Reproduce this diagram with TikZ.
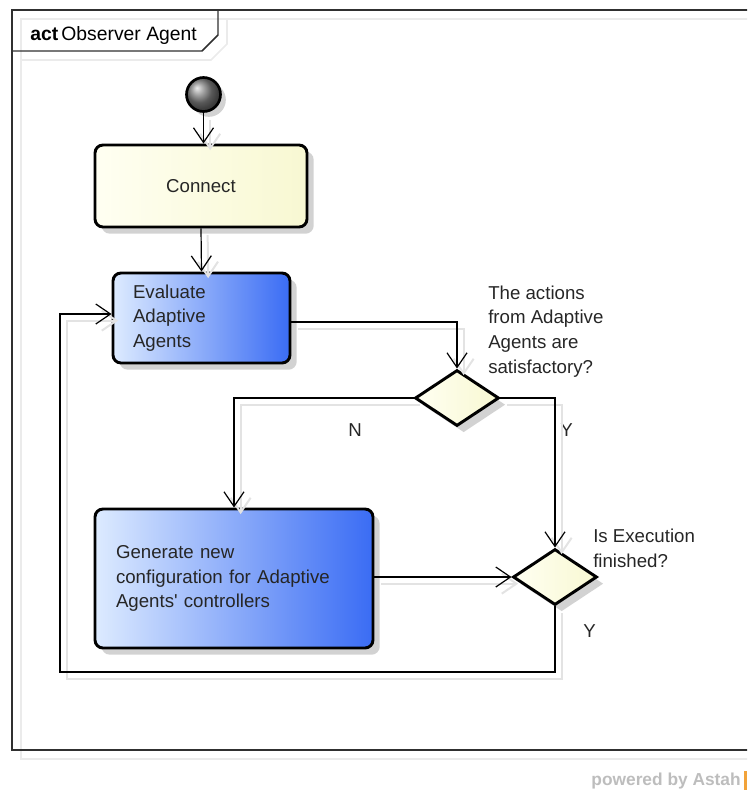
\documentclass[tikz,border=0pt]{standalone}
\usepackage{fontspec}
\setmainfont{Liberation Sans}
\usetikzlibrary{arrows.meta,shapes.geometric,shadows}

\definecolor{bluelight}{HTML}{DDEBFF}
\definecolor{bluedark}{HTML}{3A6CF4}
\definecolor{yellowlight}{HTML}{FFFFF2}
\definecolor{yellowdark}{HTML}{F8F8D2}
\definecolor{boxshade}{HTML}{D2D2D2}
\definecolor{lineshade}{HTML}{E3E3E3}
\definecolor{frameshade}{HTML}{EBEBEB}
\definecolor{frameline}{HTML}{303030}
\definecolor{brandgray}{HTML}{BDBDBD}
\definecolor{brandorange}{HTML}{F2A33A}

\tikzset{
  txt/.style={font=\fontsize{14}{18.4}\selectfont, text=black!85},
  action/.style={draw=black, line width=2.2pt, rounded corners=6pt, inner sep=0pt,
    txt, drop shadow={shadow xshift=5pt, shadow yshift=-5pt, fill=boxshade, opacity=1}},
  yfill/.style={left color=yellowlight, right color=yellowdark},
  bfill/.style={left color=bluelight, right color=bluedark},
  decision/.style={diamond, draw=black, line width=2.2pt, inner sep=0pt,
    minimum width=63pt, minimum height=42pt, yfill,
    drop shadow={shadow xshift=5pt, shadow yshift=-5pt, fill=boxshade, opacity=1}},
  startnode/.style={circle, draw=black, line width=2pt, inner sep=0pt,
    minimum size=25.5pt, ball color=black!50,
    drop shadow={shadow xshift=4pt, shadow yshift=-4pt, fill=boxshade, opacity=1}},
  conn/.style={draw=black, line width=0.9pt,
    -{Straight Barb[length=11pt,width=15pt]},
    preaction={draw=lineshade, line width=1.5pt,
      transform canvas={shift={(5pt,-5pt)}}}},
  lbl/.style={txt, inner sep=0pt, align=left, anchor=base west},
  frame/.style={draw=frameline, line width=1.1pt},
  frameshadow/.style={draw=frameshade, line width=1.2pt}
}

\begin{document}
\begin{tikzpicture}[x=0.75pt,y=-0.75pt]
  \useasboundingbox (0,0) rectangle (747,793);
  \clip (0,0) rectangle (747,793);

  % frame shadow and frame with its name tab
  \draw[frameshadow] (770,19) -- (21,19) -- (21,759) -- (770,759);
  \draw[frameshadow] (21,60) -- (211,60) -- (227,44) -- (227,19);
  \draw[frame] (770,10) -- (12,10) -- (12,750) -- (770,750);
  \draw[frame] (12,51) -- (202,51) -- (218,35) -- (218,10);
  \node[inner sep=0pt, anchor=base west, font=\fontsize{14.5}{17}\selectfont] (title)
    at (30,40) {\textbf{act}\,Observer Agent};

  % nodes
  \node[startnode] (init) at (203.5,94.5) {};
  \node[action, yfill, minimum width=159pt, minimum height=61.5pt] (connect)
    at (201,186) {Connect};
  \node[action, bfill, minimum width=132.75pt, minimum height=67.5pt,
        text width=102.75pt, inner xsep=15pt, align=left] (eval)
    at (201.5,318) {Evaluate\\Adaptive\\Agents};
  \node[action, bfill, minimum width=208.5pt, minimum height=104.25pt,
        text width=177pt, inner xsep=15.75pt, align=left] (gen)
    at (234,578.5) {Generate new\\configuration for Adaptive\\Agents\textquotesingle{} controllers};
  \node[decision] (d1) at (457,398) {};
  \node[decision] (d2) at (555,577) {};

  % labels (anchored at the baseline of their last line)
  \node[lbl] (q1) at (488,373) {The actions\\from Adaptive\\Agents are\\satisfactory?};
  \node[lbl] (q2) at (593,567) {Is Execution\\finished?};
  \node[lbl] (ln) at (348,436) {N};
  \node[lbl] (ly1) at (560,436) {Y};
  \node[lbl] (ly2) at (583,637) {Y};

  % connectors
  \coordinate (loopbl) at (60,672);
  \draw[conn] (init.south) -- (init.south |- connect.north);
  \draw[conn] (connect.south) -- (eval.north);
  \draw[conn] ([yshift=-3pt]eval.east) -| (d1.north);
  \draw[conn] (d1.west) -| (gen.north);
  \draw[conn] (d1.east) -| (d2.north);
  \draw[conn] (gen.east |- d2.west) -- (d2.west);
  \draw[conn] (d2.south) |- (loopbl) |- ([yshift=3pt]eval.west);

  % footer
  \node[inner sep=0pt, anchor=base east, text=brandgray,
        font=\bfseries\fontsize{13}{15}\selectfont] (brand)
    at (741,785) {powered by Astah};
  \fill[brandorange] (744,771) rectangle (747,790);
\end{tikzpicture}
\end{document}
